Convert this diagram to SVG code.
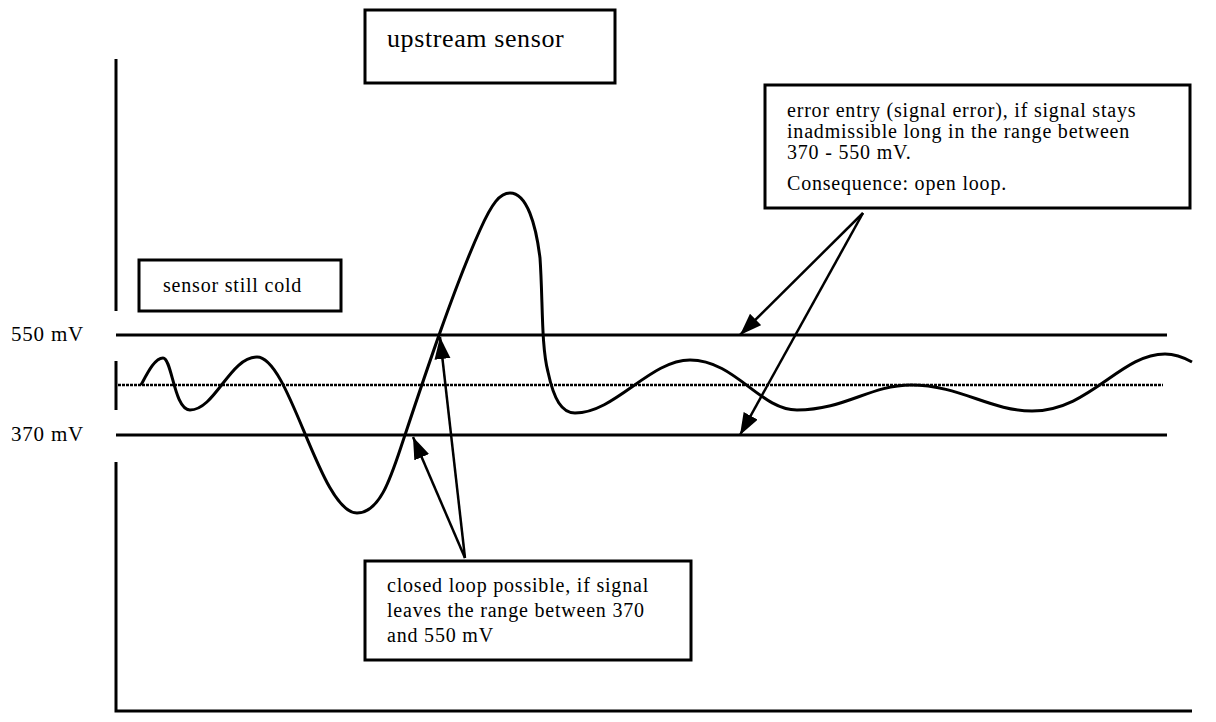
<svg xmlns="http://www.w3.org/2000/svg" width="1216" height="722" viewBox="0 0 1216 722">
<style>
text{font-family:"Liberation Serif","Times New Roman",serif;fill:#000;letter-spacing:0.8px}
.box{fill:#fff;stroke:#000;stroke-width:3}
.ax{stroke:#000;stroke-width:3;fill:none}
.lvl{stroke:#000;stroke-width:3;fill:none}
.dot{stroke:#000;stroke-width:2.5;stroke-dasharray:3 1;fill:none}
.wave{stroke:#000;stroke-width:3;fill:none;stroke-linejoin:round}
.arr{stroke:#000;stroke-width:2.5;fill:none;marker-end:url(#ah)}
.t20{font-size:20px}
</style>
<defs>
<marker id="ah" markerUnits="userSpaceOnUse" markerWidth="24" markerHeight="18" refX="22" refY="8" orient="auto">
<path d="M0,0 L22,8 L0,16 z" fill="#000"/>
</marker>
</defs>
<rect width="1216" height="722" fill="#fff"/>
<g id="axes">
<path class="ax" d="M116,59 V311 M116,361 V410 M116,462 V711 H1192"/>
<text x="11" y="341" font-size="21">550 mV</text>
<text x="11" y="441" font-size="21">370 mV</text>
</g>
<g id="levels">
<line class="lvl" x1="116" y1="335" x2="1167" y2="335"/>
<line class="lvl" x1="116" y1="435" x2="1167" y2="435"/>
<line class="dot" x1="118" y1="385" x2="1163" y2="385"/>
</g>
<g id="signal">
<path class="wave" d="M141,385 C148,372 155,358 163,358 C172,358 174,410 190,410 C215,410 230,357 257,357 C290,357 320,513 357,513 C382,513 393,470 405,435 C425,375 455,285 480,230 C492,203 500,193 510,193 C527,193 536,225 540,258 C543,300 541,345 548,372 C554,400 562,413 575,413 C615,413 650,360 690,360 C735,360 760,410 797,410 C845,410 870,385 911,385 C960,385 990,411 1032,411 C1090,411 1120,354 1165,354 C1175,354 1183,357 1192,362"/>
</g>
<g id="upstream-sensor">
<rect class="box" x="365" y="10" width="250" height="73"/>
<text x="387" y="47" font-size="26" style="letter-spacing:0.6px">upstream sensor</text>
</g>
<g id="sensor-still-cold">
<rect class="box" x="139" y="260" width="202" height="51"/>
<text class="t20" x="163" y="292">sensor still cold</text>
</g>
<g id="error-entry">
<rect class="box" x="765" y="85" width="425" height="123"/>
<text class="t20" x="787" y="117">error entry (signal error), if signal stays</text>
<text class="t20" x="787" y="138">inadmissible long in the range between</text>
<text class="t20" x="787" y="159">370 - 550 mV.</text>
<text class="t20" x="787" y="190">Consequence: open loop.</text>
</g>
<g id="closed-loop">
<rect class="box" x="365" y="561" width="326" height="99"/>
<text class="t20" x="387" y="592">closed loop possible, if signal</text>
<text class="t20" x="387" y="617">leaves the range between 370</text>
<text class="t20" x="387" y="642">and 550 mV</text>
</g>
<g id="connectors">
<line class="arr" x1="863" y1="213" x2="740" y2="335"/>
<line class="arr" x1="863" y1="213" x2="740" y2="435"/>
<line class="arr" x1="465" y1="558" x2="440" y2="337"/>
<line class="arr" x1="465" y1="558" x2="413" y2="437"/>
</g>
</svg>
